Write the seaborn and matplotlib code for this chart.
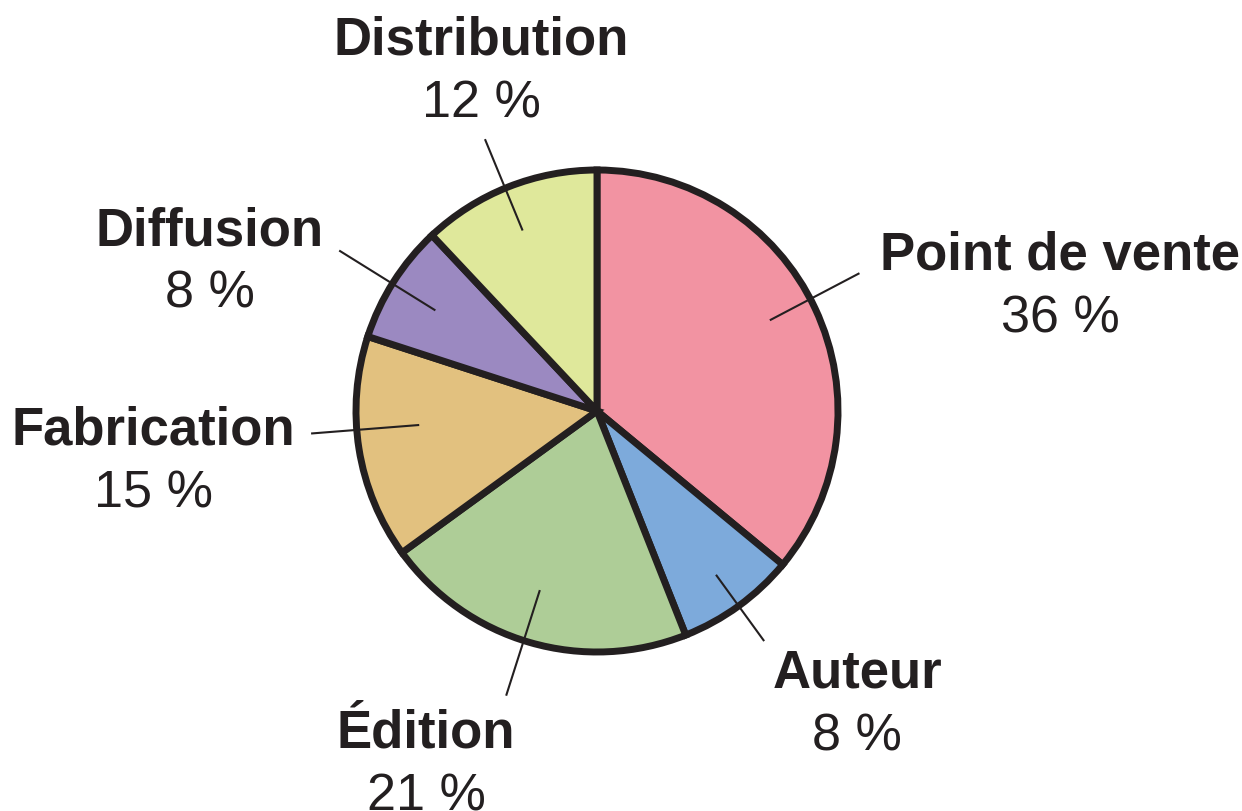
import numpy as np
import matplotlib.pyplot as plt
import seaborn as sns

# data
categories = ['Point de vente', 'Auteur', 'Édition', 'Fabrication', 'Diffusion', 'Distribution']
shares = [36, 8, 21, 15, 8, 12]
pct_labels = [f'{v} %' for v in shares]
colors = ['#F293A2', '#7DAADB', '#AECD97', '#E2C17F', '#9B89C1', '#DFE89B']

# layout, in pixels of the 1242x812 picture
CX, CY, R = 597, 412, 241
name_pos = [(1060, 270), (857, 688), (426, 748), (153, 445), (210, 245), (481, 55)]  # centre x, baseline y
leader_r = [(0.81, 1.23), (0.84, 1.18), (0.78, 1.24), (0.74, 1.19), (0.79, 1.26), (0.81, 1.22)]
leader_shift = [2.5, 0, -1.5, -4.5, 0.5, 0.8]  # degrees off the wedge middle
LINE_GAP = 63
INK = '#231f20'

sns.set_theme(style='white')
plt.rcParams['font.family'] = ['Liberation Sans', 'DejaVu Sans']

fig = plt.figure(figsize=(12.42, 8.12), dpi=100)
ax = fig.add_axes([0, 0, 1, 1])
wedges, _ = ax.pie(shares, colors=colors, startangle=90, counterclock=False, radius=1,
                   wedgeprops=dict(edgecolor=INK, linewidth=5))
ax.set_xlim(-CX / R, (1242 - CX) / R)
ax.set_ylim(-(812 - CY) / R, CY / R)
ax.axis('off')

for w, name, pct, (lx, ly), (r0, r1), sh in zip(wedges, categories, pct_labels,
                                                 name_pos, leader_r, leader_shift):
    ang = np.deg2rad((w.theta1 + w.theta2) / 2 + sh)
    ax.plot([r0 * np.cos(ang), r1 * np.cos(ang)], [r0 * np.sin(ang), r1 * np.sin(ang)],
            color=INK, lw=1.5, solid_capstyle='butt')
    x, y = (lx - CX) / R, (CY - ly) / R
    ax.text(x, y, name, ha='center', va='baseline', fontsize=38, fontweight='bold', color=INK)
    ax.text(x, y - LINE_GAP / R, pct, ha='center', va='baseline', fontsize=37.5, color=INK)

fig.savefig('out.png', dpi=100)
